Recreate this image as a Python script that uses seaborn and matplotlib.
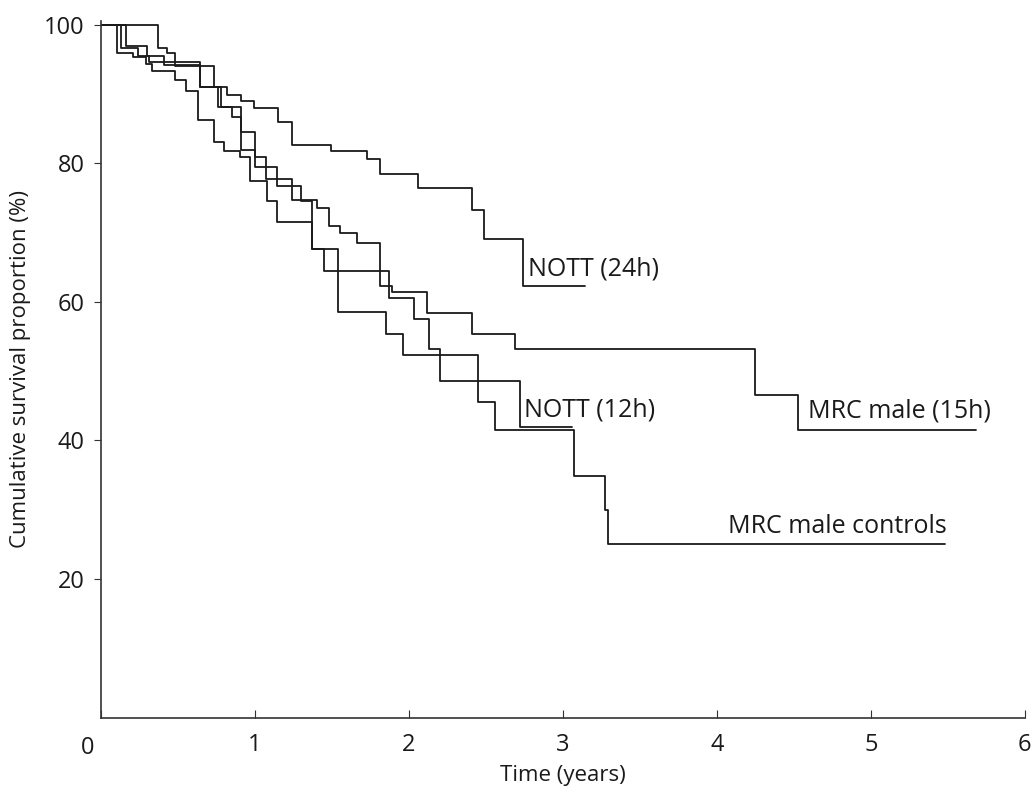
import numpy as np
import pandas as pd
import seaborn as sns
import matplotlib.pyplot as plt

# Kaplan-Meier step curves (time in years, survival in %)
nott24_t = [0, 0.37, 0.43, 0.48, 0.73, 0.82, 0.91, 0.99, 1.15, 1.24, 1.49,
            1.73, 1.81, 2.06, 2.41, 2.49, 2.74]
nott24_v = [100, 96.6, 96.0, 94.0, 91.0, 89.9, 89.0, 88.0, 86.0, 82.6, 81.8,
            80.6, 78.4, 76.5, 73.2, 69.1, 62.3]
nott24_end = 3.14

mrc15_t = [0, 0.13, 0.24, 0.31, 0.64, 0.78, 0.91, 1.0, 1.07, 1.24, 1.4,
           1.48, 1.55, 1.66, 1.81, 1.89, 2.12, 2.41, 2.69, 4.25, 4.53]
mrc15_v = [100, 96.7, 95.5, 94.6, 91.0, 88.1, 81.9, 80.9, 77.8, 74.7, 73.5,
           70.9, 69.9, 68.5, 62.3, 61.5, 58.4, 55.3, 53.2, 46.6, 41.5]
mrc15_end = 5.68

nott12_t = [0, 0.16, 0.3, 0.41, 0.64, 0.76, 0.85, 0.91, 1.0, 1.14, 1.3,
            1.37, 1.45, 1.87, 2.03, 2.13, 2.2, 2.72]
nott12_v = [100, 97.0, 95.5, 94.2, 91.0, 88.1, 86.7, 84.5, 79.5, 76.8, 74.6,
            67.7, 64.4, 60.6, 57.5, 53.2, 48.6, 41.9]
nott12_end = 3.06

ctrl_t = [0, 0.1, 0.21, 0.29, 0.33, 0.48, 0.55, 0.63, 0.73, 0.8, 0.9, 0.97,
          1.08, 1.14, 1.37, 1.54, 1.85, 1.96, 2.45, 2.56, 3.07, 3.27, 3.29]
ctrl_v = [100, 96.0, 95.3, 94.3, 93.4, 92.0, 90.5, 86.2, 83.1, 81.8, 80.9,
          77.5, 74.6, 71.6, 67.7, 58.6, 55.3, 52.4, 45.5, 41.5, 34.9, 30.0, 25.1]
ctrl_end = 5.48

labels = ['NOTT (24h)', 'MRC male (15h)', 'NOTT (12h)', 'MRC male controls']
label_pos = [(2.77, 62.9), (4.59, 42.4), (2.75, 42.6), (4.07, 25.8)]

series = [(nott24_t, nott24_v, nott24_end),
          (mrc15_t, mrc15_v, mrc15_end),
          (nott12_t, nott12_v, nott12_end),
          (ctrl_t, ctrl_v, ctrl_end)]

sns.set_style('ticks')
plt.rcParams['font.family'] = ['Open Sans', 'DejaVu Sans']

fig = plt.figure(figsize=(10.32, 7.92), dpi=100)
ax = fig.add_axes([0.098, 0.094, 0.895, 0.879])

for (t, v, end), name in zip(series, labels):
    df = pd.DataFrame({'t': t + [end], 'v': v + [v[-1]]})
    sns.lineplot(data=df, x='t', y='v', ax=ax, estimator=None,
                 drawstyle='steps-post', color='#1a1a1a', linewidth=1.3)

for name, (x, y) in zip(labels, label_pos):
    ax.text(x, y, name, fontsize=18, color='#1a1a1a', ha='left', va='bottom')

ax.set_xlim(0, 6)
ax.set_ylim(0, 100.5)
ax.set_xticks(range(0, 7))
ax.set_xticklabels([''] + [str(i) for i in range(1, 7)])
ax.text(-0.085, -2.6, '0', fontsize=17, color='#1a1a1a', ha='center',
        va='top')
ax.set_yticks([20, 40, 60, 80, 100])
ax.tick_params(axis='x', direction='in', length=6, labelsize=17, pad=11,
               color='#333333', labelcolor='#1a1a1a')
ax.tick_params(axis='y', direction='out', length=5, labelsize=17, pad=7,
               color='#333333', labelcolor='#1a1a1a')
ax.set_xlabel('Time (years)', fontsize=16, labelpad=6, color='#1a1a1a')
ax.set_ylabel('Cumulative survival proportion (%)', fontsize=16, labelpad=9,
              color='#1a1a1a')
for s in ['top', 'right']:
    ax.spines[s].set_visible(False)
for s in ['left', 'bottom']:
    ax.spines[s].set_linewidth(1.2)
    ax.spines[s].set_color('#333333')

fig.savefig('out.png', dpi=100)
